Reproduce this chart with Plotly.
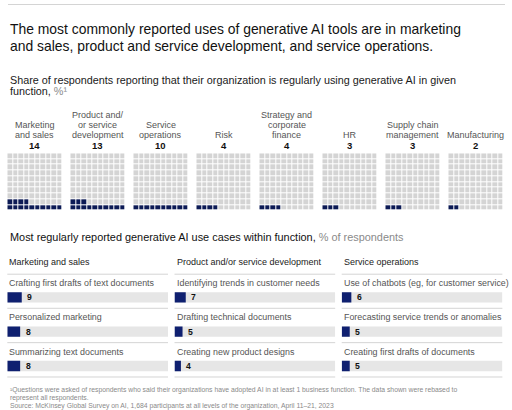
import plotly.graph_objects as go

W, H = 512, 410

# ---------------- data ----------------
functions = ["Marketing<br>and sales", "Product and/<br>or service<br>development", "Service<br>operations",
             "Risk", "Strategy and<br>corporate<br>finance", "HR", "Supply chain<br>management", "Manufacturing"]
function_share = [14, 13, 10, 4, 4, 3, 3, 2]

use_case_groups = ["Marketing and sales", "Product and/or service development", "Service operations"]
use_case_labels = [
    ["Crafting first drafts of text documents", "Personalized marketing", "Summarizing text documents"],
    ["Identifying trends in customer needs", "Drafting technical documents", "Creating new product designs"],
    ["Use of chatbots (eg, for customer service)", "Forecasting service trends or anomalies",
     "Creating first drafts of documents"],
]
use_case_values = [[9, 8, 8], [7, 5, 4], [6, 5, 5]]
scale_max = 100

title_lines = ["The most commonly reported uses of generative AI tools are in marketing",
               "and sales, product and service development, and service operations."]
subtitle_lines = ["Share of respondents reporting that their organization is regularly using generative AI in given",
                  "function, <span style='color:#8a8a8a'>%¹</span>"]
section_title = ("Most regularly reported generative AI use cases within function, "
                 "<span style='color:#8a8a8a'>% of respondents</span>")
footnote_lines = ["¹Questions were asked of respondents who said their organizations have adopted AI in at least 1 business function. The data shown were rebased to",
                  "represent all respondents.",
                  "Source: McKinsey Global Survey on AI, 1,684 participants at all levels of the organization, April 11–21, 2023"]

# ---------------- style ----------------
FONT = "Liberation Sans"
NAVY_W = "#0c1a55"
NAVY_B = "#0f2070"
CELL_GRAY = "#d4d4d4"
BAR_BG = "#e6e6e6"
LINE = "#d4d4d4"
LABEL = "#555555"


def px_x(p):
    return p / W


def px_y(p):
    return 1 - p / H


fig = go.Figure()
layout = dict(width=W, height=H, margin=dict(l=0, r=0, t=0, b=0),
              paper_bgcolor="white", plot_bgcolor="white", showlegend=False,
              font=dict(family=FONT, color="#222"))
annotations = []
shapes = []


def text(t, x, y, size, color, anchor="left"):
    annotations.append(dict(text=t, xref="paper", yref="paper", x=px_x(x), y=px_y(y),
                            xanchor=anchor, yanchor="middle", showarrow=False,
                            font=dict(size=size, color=color, family=FONT)))


def hline(x0, x1, y):
    shapes.append(dict(type="line", xref="paper", yref="paper", x0=px_x(x0), x1=px_x(x1),
                       y0=px_y(y), y1=px_y(y), line=dict(color=LINE, width=1)))


# top rule
hline(8, 505, 4.5)

# titles
for i, t in enumerate(title_lines):
    text(t, 7.5, 29 + 17.5 * i, 13.9, "#111")
for i, t in enumerate(subtitle_lines):
    text(t, 7.5, 80 + 11.5 * i, 10.8, "#1a1a1a")

# ---------------- waffles ----------------
w_left0, w_pitch, w_size = 7.3, 63.0, 55.0
w_top, w_bot = 153.3, 210.7
for k, (name, val) in enumerate(zip(functions, function_share)):
    ax = k + 1
    sfx = "" if ax == 1 else str(ax)
    z = [[1 if r * 10 + c < val else 0 for c in range(10)] for r in range(10)]
    fig.add_trace(go.Heatmap(z=z, x=list(range(10)), y=list(range(10)), xaxis="x" + sfx, yaxis="y" + sfx,
                             colorscale=[[0, CELL_GRAY], [0.5, CELL_GRAY], [0.5, NAVY_W], [1, NAVY_W]],
                             zmin=0, zmax=1, showscale=False, xgap=1, ygap=1, hoverinfo="skip"))
    x0 = w_left0 + w_pitch * k
    layout["xaxis" + sfx] = dict(domain=[px_x(x0), px_x(x0 + w_size)], range=[-0.5, 9.5], visible=False,
                                 anchor="y" + sfx, fixedrange=True)
    layout["yaxis" + sfx] = dict(domain=[px_y(w_bot), px_y(w_top)], range=[-0.5, 9.5], visible=False,
                                 anchor="x" + sfx, fixedrange=True)
    cx = x0 + w_size / 2
    lines = name.split("<br>")
    for j, ln in enumerate(reversed(lines)):
        text(ln, cx, 135 - 10 * j, 9, LABEL, "center")
    text("<b>%d</b>" % val, cx, 145.5, 9.5, "#111", "center")

# ---------------- use-case bars ----------------
text(section_title, 7.5, 237.5, 10.9, "#111")

c_left0, c_pitch, c_width = 7.3, 167.2, 160.7
row_pitch = 34.35
row0 = 297.3
b_top = row0 - row_pitch / 2
b_bot = row0 + 2 * row_pitch + row_pitch / 2
for g in range(3):
    ax = 9 + g
    sfx = str(ax)
    cats = list(range(len(use_case_labels[g])))
    fig.add_trace(go.Bar(x=[scale_max] * len(cats), y=cats, orientation="h", width=0.3,
                         marker=dict(color=BAR_BG, line=dict(width=0)), xaxis="x" + sfx, yaxis="y" + sfx,
                         hoverinfo="skip"))
    fig.add_trace(go.Bar(x=use_case_values[g], y=cats, orientation="h", width=0.3,
                         marker=dict(color=NAVY_B, line=dict(width=0)), xaxis="x" + sfx, yaxis="y" + sfx,
                         hoverinfo="skip"))
    x0 = c_left0 + c_pitch * g
    layout["xaxis" + sfx] = dict(domain=[px_x(x0), px_x(x0 + c_width)], range=[0, scale_max], visible=False,
                                 anchor="y" + sfx, fixedrange=True)
    layout["yaxis" + sfx] = dict(domain=[px_y(b_bot), px_y(b_top)], range=[2.5, -0.5], visible=False,
                                 anchor="x" + sfx, fixedrange=True)
    # header + rule
    text(use_case_groups[g], x0, 262, 9, "#222")
    hline(x0, x0 + c_width, 274.2)
    for i, (lab, v) in enumerate(zip(use_case_labels[g], use_case_values[g])):
        annotations.append(dict(text=lab, xref="x" + sfx, yref="y" + sfx, x=0, y=i, yshift=14.3,
                                xanchor="left", yanchor="middle", showarrow=False,
                                font=dict(size=8.9, color=LABEL, family=FONT)))
        annotations.append(dict(text="<b>%d</b>" % v, xref="x" + sfx, yref="y" + sfx, x=v, y=i, xshift=3.5,
                                xanchor="left", yanchor="middle", showarrow=False,
                                font=dict(size=8.6, color="#111", family=FONT)))
        yl = i + 0.32
        shapes.append(dict(type="line", xref="x%s domain" % sfx, yref="y" + sfx, x0=0, x1=1, y0=yl, y1=yl,
                           line=dict(color=LINE, width=1)))

layout["barmode"] = "overlay"

# footnotes
for i, t in enumerate(footnote_lines):
    text(t, 7.5, 390 + 7.8 * i, 6.8, "#8a8a8a")

layout["annotations"] = annotations
layout["shapes"] = shapes
fig.update_layout(**layout)
fig.write_html("out.html", config=dict(displayModeBar=False, staticPlot=True),
               post_script="document.body.style.margin='0';document.body.style.overflow='hidden';")
